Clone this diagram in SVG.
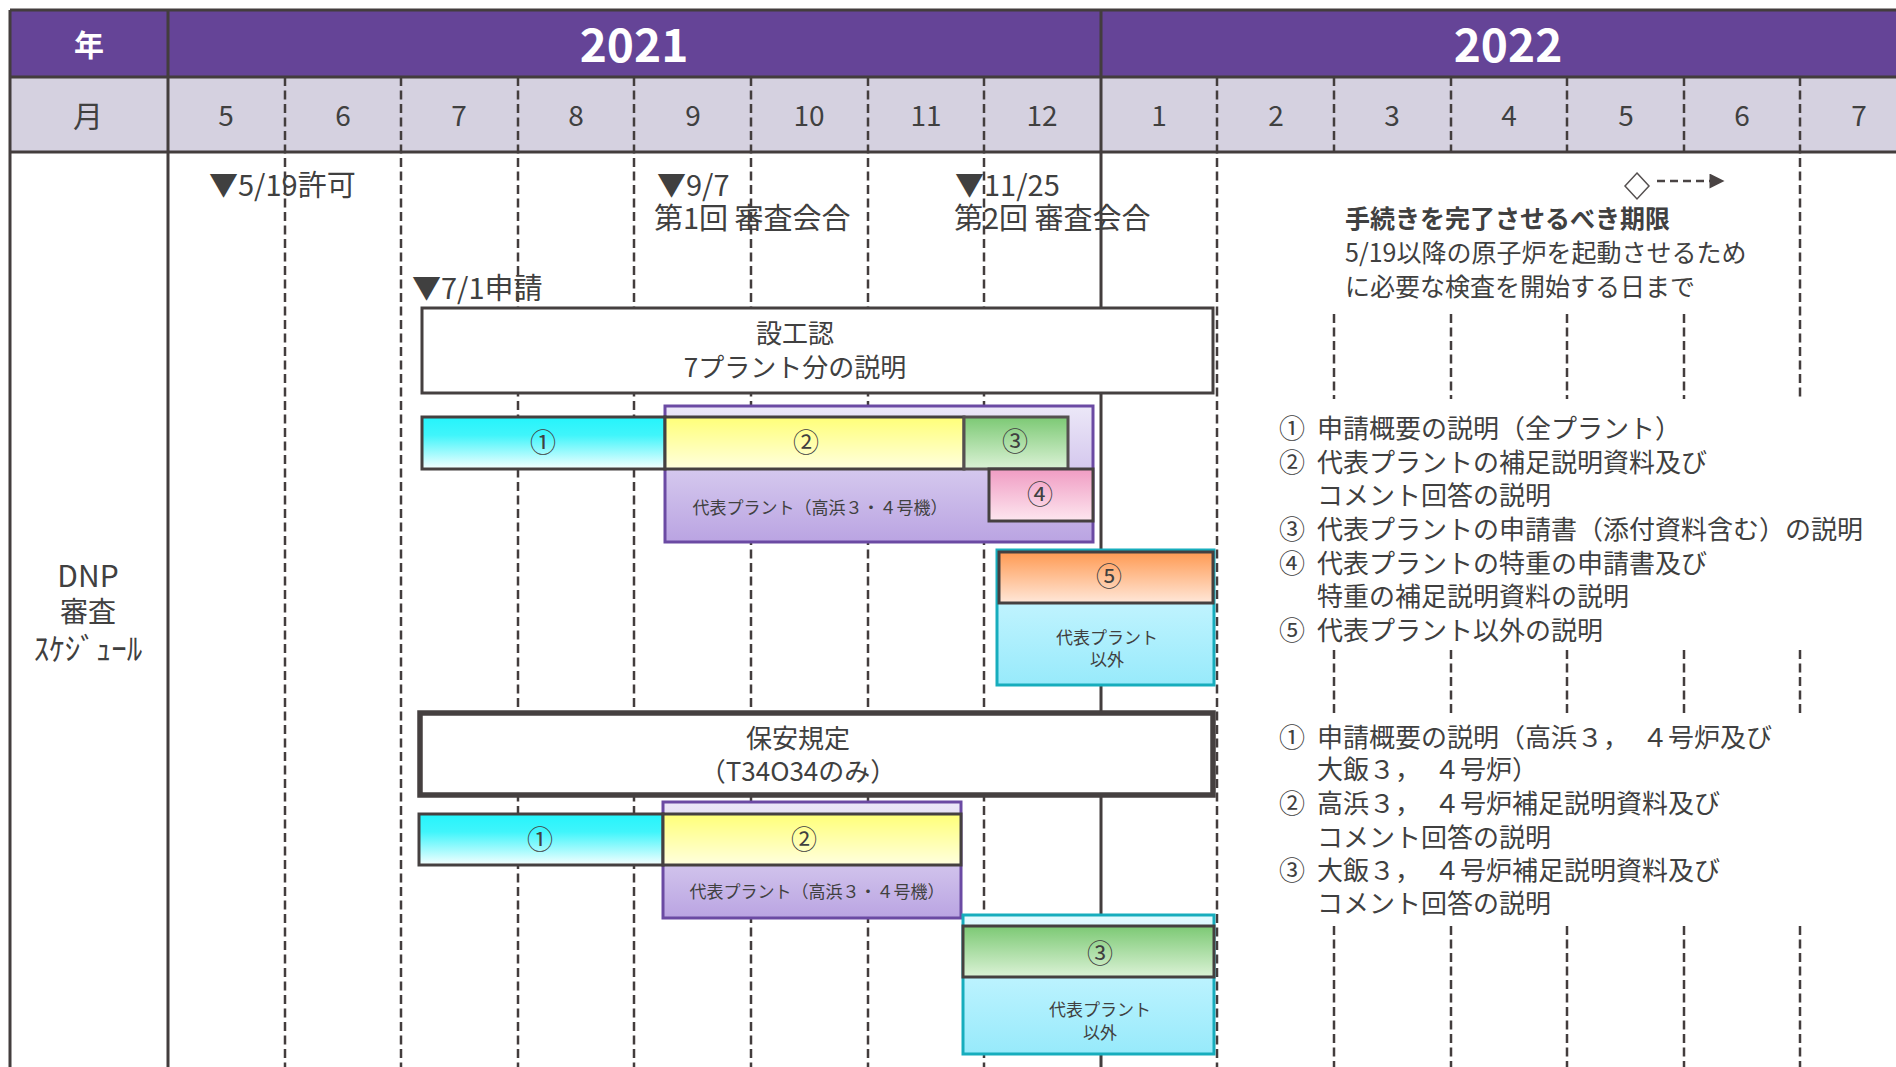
<svg xmlns="http://www.w3.org/2000/svg" width="1896" height="1067" viewBox="0 0 1896 1067">
<defs>
<linearGradient id="gCyan" x1="0" y1="0" x2="0" y2="1"><stop offset="0" stop-color="#24f4fb"/><stop offset="0.35" stop-color="#40f5fb"/><stop offset="1" stop-color="#f6ffff"/></linearGradient>
<linearGradient id="gYellow" x1="0" y1="0" x2="0" y2="1"><stop offset="0" stop-color="#ffff78"/><stop offset="1" stop-color="#ffffde"/></linearGradient>
<linearGradient id="gGreen" x1="0" y1="0" x2="0" y2="1"><stop offset="0" stop-color="#7cc974"/><stop offset="1" stop-color="#dbf2d6"/></linearGradient>
<linearGradient id="gPink" x1="0" y1="0" x2="0" y2="1"><stop offset="0" stop-color="#f09cc3"/><stop offset="1" stop-color="#fde6ef"/></linearGradient>
<linearGradient id="gOrange" x1="0" y1="0" x2="0" y2="1"><stop offset="0" stop-color="#ff9a52"/><stop offset="1" stop-color="#ffe7d9"/></linearGradient>
<linearGradient id="gPurple" x1="0" y1="0" x2="0" y2="1"><stop offset="0" stop-color="#ece8f8"/><stop offset="1" stop-color="#baa4e2"/></linearGradient>
<linearGradient id="gTeal" x1="0" y1="0" x2="0" y2="1"><stop offset="0" stop-color="#e4fbff"/><stop offset="0.3" stop-color="#c6f5ff"/><stop offset="1" stop-color="#97eafb"/></linearGradient>
<marker id="arrowHead" viewBox="0 0 10 10" refX="1" refY="5" markerWidth="17" markerHeight="15" markerUnits="userSpaceOnUse" orient="auto"><path d="M0,0 L10,5 L0,10 Z" fill="#4a4444"/></marker>
</defs>
<style>
text { font-family: "Noto Sans CJK JP", "Noto Sans", sans-serif; fill: #404040; }
.c { text-anchor: middle; }
.f29 { font-size: 29px; }
.f26 { font-size: 26px; }
.f25 { font-size: 25px; }
.f18 { font-size: 17px; }
.num { font-size: 26px; }
.mon { font-size: 28px; text-anchor: middle; }
.hdr { fill: #ffffff; font-weight: bold; text-anchor: middle; }
.dash { stroke: #433d3d; stroke-width: 2.5; stroke-dasharray: 9 4.5; fill: none; }
.solid { stroke: #433d3d; stroke-width: 3; fill: none; }
.bar { stroke: #454040; stroke-width: 3; }
.box { fill: #ffffff; stroke: #454040; stroke-width: 3; }
.pbox { fill: url(#gPurple); stroke: #6b4aa3; stroke-width: 3; }
.tbox { fill: url(#gTeal); stroke: #17adbd; stroke-width: 3; }
</style>

<rect x="0" y="0" width="1896" height="1067" fill="#ffffff"/>

<g id="header">
  <rect x="10" y="10" width="1890" height="67" fill="#654497"/>
  <rect x="10" y="77" width="1890" height="75" fill="#d5d1e0"/>
  <text class="hdr" x="89" y="56" style="font-size:30px">年</text>
  <text class="hdr" x="634" y="62" style="font-size:46px">2021</text>
  <text class="hdr" x="1508" y="62" style="font-size:46px">2022</text>
  <text class="c" x="88" y="127" style="font-size:30px">月</text>
  <text class="mon" x="226" y="126">5</text>
  <text class="mon" x="343" y="126">6</text>
  <text class="mon" x="459" y="126">7</text>
  <text class="mon" x="576" y="126">8</text>
  <text class="mon" x="693" y="126">9</text>
  <text class="mon" x="809" y="126">10</text>
  <text class="mon" x="926" y="126">11</text>
  <text class="mon" x="1042" y="126">12</text>
  <text class="mon" x="1159" y="126">1</text>
  <text class="mon" x="1276" y="126">2</text>
  <text class="mon" x="1392" y="126">3</text>
  <text class="mon" x="1509" y="126">4</text>
  <text class="mon" x="1626" y="126">5</text>
  <text class="mon" x="1742" y="126">6</text>
  <text class="mon" x="1859" y="126">7</text>
</g>

<g id="connectors">
  <path class="dash" d="M285,77 V1067 M401,77 V1067 M518,77 V1067 M634,77 V1067 M751,77 V1067 M868,77 V1067 M984,77 V1067 M1217,77 V1067"/>
  <path class="dash" d="M1334,77 V152 M1334,314 V399 M1334,650 V713 M1334,926 V1067
                        M1451,77 V152 M1451,314 V399 M1451,650 V713 M1451,926 V1067
                        M1567,77 V152 M1567,314 V399 M1567,650 V713 M1567,926 V1067
                        M1684,77 V152 M1684,314 V399 M1684,650 V713 M1684,926 V1067
                        M1800,77 V399 M1800,650 V713 M1800,926 V1067"/>
  <path class="solid" d="M10,10 H1896 M10,77 H1896 M10,152 H1896 M10,10 V1067 M168,10 V1067 M1101,10 V1067"/>
  <path d="M1657,181 H1711" stroke="#4a4444" stroke-width="2.5" stroke-dasharray="8 5" fill="none" marker-end="url(#arrowHead)"/>
</g>

<g id="milestones">
  <text class="f29" x="209" y="196">▼5/19許可</text>
  <text class="f29" x="657" y="196">▼9/7</text>
  <text class="f29" x="654" y="229">第1回 審査会合</text>
  <text class="f29" x="955" y="196">▼11/25</text>
  <text class="f29" x="954" y="229">第2回 審査会合</text>
  <text class="f29" x="412" y="299">▼7/1申請</text>
</g>

<g id="deadline">
  <path d="M1637,173 L1649,186 L1637,199 L1625,186 Z" fill="#ffffff" stroke="#555050" stroke-width="1.5"/>
  <text class="f25" x="1345" y="228" style="font-weight:bold">手続きを完了させるべき期限</text>
  <text class="f25" x="1345" y="262">5/19以降の原子炉を起動させるため</text>
  <text class="f25" x="1345" y="296">に必要な検査を開始する日まで</text>
</g>

<g id="row-label">
  <text class="c" x="88" y="587" style="font-size:30px">DNP</text>
  <text class="c" x="88" y="622" style="font-size:28px">審査</text>
  <text class="c" x="88" y="660" style="font-size:31px">ｽｹｼﾞｭｰﾙ</text>
</g>

<g id="sekkoninn">
  <rect class="box" x="422" y="308" width="791" height="85"/>
  <text class="c f26" x="795" y="343">設工認</text>
  <text class="c f26" x="795" y="377">7プラント分の説明</text>
</g>

<g id="sk-rep">
  <rect class="pbox" x="665" y="406" width="428" height="136"/>
  <text class="c f18" x="820" y="514">代表プラント（高浜３・４号機）</text>
</g>
<g id="sk-1">
  <rect class="bar" x="422" y="417" width="243" height="52" fill="url(#gCyan)"/>
  <text class="c num" x="543" y="452">①</text>
</g>
<g id="sk-2">
  <rect class="bar" x="665" y="417" width="299" height="52" fill="url(#gYellow)"/>
  <text class="c num" x="806" y="452">②</text>
</g>
<g id="sk-3">
  <rect x="964" y="417" width="104" height="52" fill="url(#gGreen)" stroke="#555050" stroke-width="3"/>
  <text class="c num" x="1015" y="451">③</text>
</g>
<g id="sk-4">
  <rect class="bar" x="989" y="469" width="104" height="52" fill="url(#gPink)"/>
  <text class="c num" x="1040" y="504">④</text>
</g>
<g id="sk-5">
  <rect class="tbox" x="997" y="550" width="217" height="135"/>
  <rect class="bar" x="999" y="552" width="214" height="51" fill="url(#gOrange)"/>
  <text class="c num" x="1109" y="586">⑤</text>
  <text class="c f18" x="1107" y="644">代表プラント</text>
  <text class="c f18" x="1107" y="666">以外</text>
</g>

<g id="hoan">
  <rect x="420" y="713" width="793" height="82" fill="#ffffff" stroke="#454040" stroke-width="5.5"/>
  <text class="c f26" x="798" y="748">保安規定</text>
  <text class="c f26" x="798" y="781">（T34O34のみ）</text>
</g>

<g id="hs-rep">
  <rect class="pbox" x="663" y="802" width="298" height="116"/>
  <text class="c f18" x="817" y="898">代表プラント（高浜３・４号機）</text>
</g>
<g id="hs-1">
  <rect class="bar" x="419" y="814" width="244" height="51" fill="url(#gCyan)"/>
  <text class="c num" x="540" y="849">①</text>
</g>
<g id="hs-2">
  <rect class="bar" x="663" y="814" width="298" height="51" fill="url(#gYellow)"/>
  <text class="c num" x="804" y="849">②</text>
</g>
<g id="hs-3">
  <rect class="tbox" x="963" y="915" width="251" height="139"/>
  <rect class="bar" x="963" y="926" width="251" height="51" fill="url(#gGreen)"/>
  <text class="c num" x="1100" y="963">③</text>
  <text class="c f18" x="1100" y="1016">代表プラント</text>
  <text class="c f18" x="1100" y="1039">以外</text>
</g>

<g id="legend-sk">
  <text class="f26" x="1279" y="438">①</text>
  <text class="f26" x="1317" y="438">申請概要の説明（全プラント）</text>
  <text class="f26" x="1279" y="472">②</text>
  <text class="f26" x="1317" y="472">代表プラントの補足説明資料及び</text>
  <text class="f26" x="1317" y="505">コメント回答の説明</text>
  <text class="f26" x="1279" y="539">③</text>
  <text class="f26" x="1317" y="539">代表プラントの申請書（添付資料含む）の説明</text>
  <text class="f26" x="1279" y="573">④</text>
  <text class="f26" x="1317" y="573">代表プラントの特重の申請書及び</text>
  <text class="f26" x="1317" y="606">特重の補足説明資料の説明</text>
  <text class="f26" x="1279" y="640">⑤</text>
  <text class="f26" x="1317" y="640">代表プラント以外の説明</text>
</g>

<g id="legend-hs">
  <text class="f26" x="1279" y="747">①</text>
  <text class="f26" x="1317" y="747">申請概要の説明（高浜３，　４号炉及び</text>
  <text class="f26" x="1317" y="779">大飯３，　４号炉）</text>
  <text class="f26" x="1279" y="813">②</text>
  <text class="f26" x="1317" y="813">高浜３，　４号炉補足説明資料及び</text>
  <text class="f26" x="1317" y="847">コメント回答の説明</text>
  <text class="f26" x="1279" y="880">③</text>
  <text class="f26" x="1317" y="880">大飯３，　４号炉補足説明資料及び</text>
  <text class="f26" x="1317" y="913">コメント回答の説明</text>
</g>
</svg>
